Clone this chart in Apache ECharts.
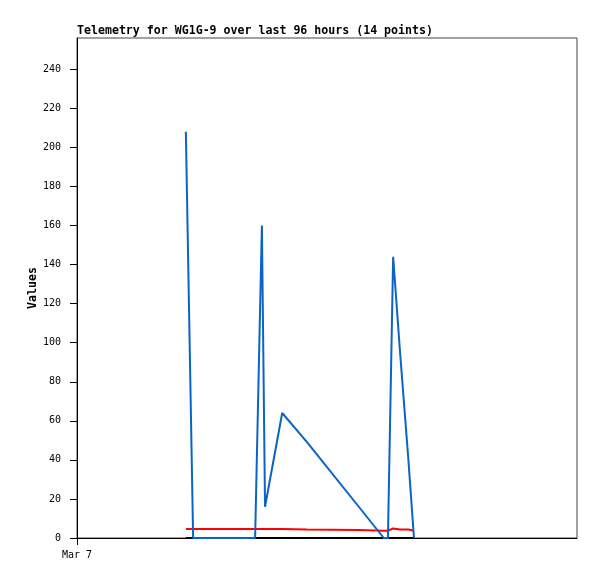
<!DOCTYPE html>
<html>
<head>
<meta charset="utf-8">
<title>Telemetry</title>
<script src="https://cdn.jsdelivr.net/npm/echarts@6/dist/echarts.min.js"></script>
<style>
  html, body { margin: 0; padding: 0; background: #fff; }
  #chart { width: 597px; height: 579px; }
</style>
</head>
<body>
<div id="chart"></div>
<script>
  // hours since Mar 7 00:00 for each telemetry point
  var hours = [20.9, 22.3, 34.2, 35.5, 36.1, 39.4, 44.2, 54.1, 58.9, 59.7, 60.7, 62.0, 63.6, 64.7]
  // three telemetry channels
  var blueVals = [208, 0, 0, 160, 16, 64, 49, 16, 0, 0, 144, 96, 41, 0]
  var redVals = [4.6, 4.6, 4.6, 4.6, 4.6, 4.6, 4.3, 4.1, 3.7, 3.7, 4.9, 4.4, 4.3, 3.7]
  var blackVals = [0, 0, 0, 0, 0, 0, 0, 0, 0, 0, 0, 0, 0, 0]
  var yTicks = [0, 20, 40, 60, 80, 100, 120, 140, 160, 180, 200, 220, 240]
  var xTicks = [0]
  var xTickLabels = ['Mar 7']

  function pairs(vals) {
    return vals.map(function (v, i) { return [hours[i], v] })
  }

  var mono = 'DejaVu Sans Mono'
  var chart = echarts.init(document.getElementById('chart'))
  chart.setOption({
    backgroundColor: '#fff',
    animation: false,
    title: {
      text: 'Telemetry for WG1G-9 over last 96 hours (14 points)',
      left: 77,
      top: 25,
      padding: 0,
      textStyle: { fontFamily: mono, fontSize: 11.6, fontWeight: 'bold', color: '#000' }
    },
    grid: {
      left: 77, top: 38, width: 500, height: 500,
      show: true, borderColor: '#444', borderWidth: 1, backgroundColor: 'transparent'
    },
    xAxis: {
      type: 'value',
      min: 0,
      max: 96,
      splitLine: { show: false },
      axisLine: { lineStyle: { color: '#000', width: 1 } },
      axisTick: { length: 7, lineStyle: { color: '#000' }, customValues: xTicks },
      axisLabel: {
        customValues: xTicks,
        margin: 12,
        fontFamily: mono, fontSize: 10, color: '#000',
        formatter: function (v) { return xTickLabels[xTicks.indexOf(v)] || '' }
      }
    },
    yAxis: {
      type: 'value',
      min: 0,
      max: 256,
      name: 'Values',
      nameLocation: 'middle',
      nameGap: 38,
      nameMoveOverlap: false,
      nameTextStyle: { fontFamily: mono, fontSize: 11.6, fontWeight: 'bold', color: '#000' },
      splitLine: { show: false },
      axisLine: { show: true, lineStyle: { color: '#000', width: 1 } },
      axisTick: { length: 7, lineStyle: { color: '#000' }, customValues: yTicks },
      axisLabel: { customValues: yTicks, margin: 16, fontFamily: mono, fontSize: 10, color: '#000' }
    },
    series: [
      {
        type: 'line', data: pairs(redVals), showSymbol: false,
        lineStyle: { color: '#ff0000', width: 2 }, z: 2
      },
      {
        type: 'line', data: pairs(blackVals), showSymbol: false,
        lineStyle: { color: '#000', width: 2 }, z: 3
      },
      {
        type: 'line', data: pairs(blueVals), showSymbol: false,
        lineStyle: { color: '#0a64c8', width: 2 }, z: 4
      }
    ]
  })
</script>
</body>
</html>
